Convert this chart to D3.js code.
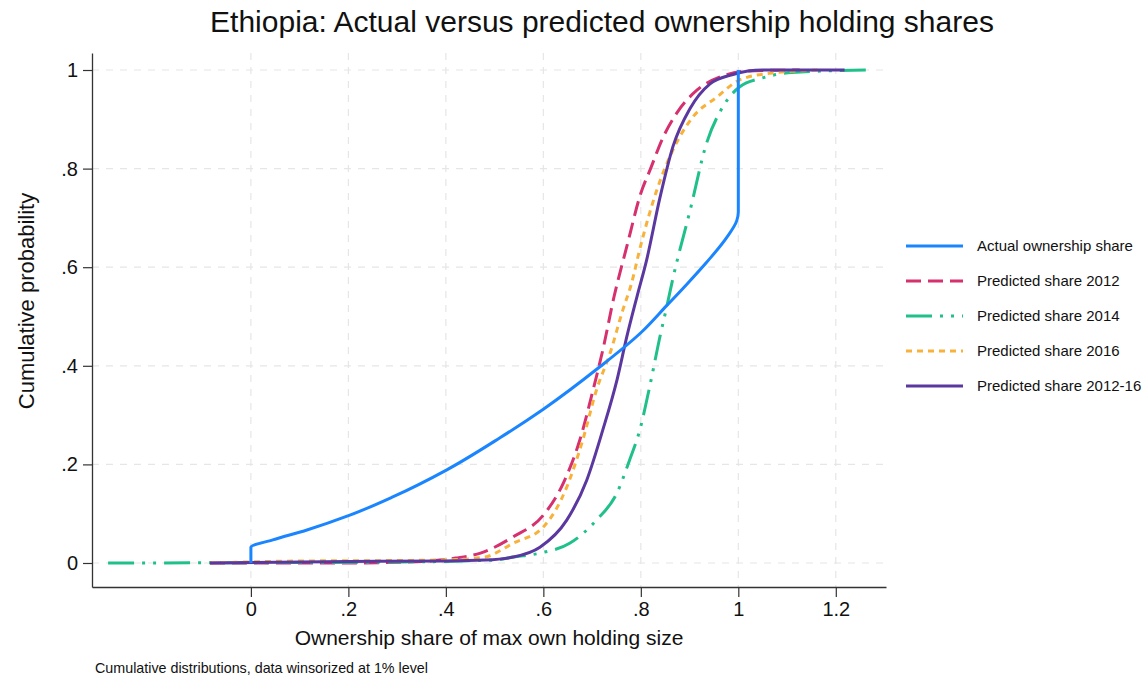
<!DOCTYPE html>
<html>
<head>
<meta charset="utf-8">
<script src="https://cdn.jsdelivr.net/npm/d3@7"></script>
<style>
  body { margin: 0; background: #fff; }
  text { font-family: "Liberation Sans", Arial, Helvetica, sans-serif; fill: #111; }
</style>
</head>
<body>
<svg id="chart" width="1145" height="680"></svg>
<script>
// ---------- data ----------
const title = "Ethiopia: Actual versus predicted ownership holding shares";
const xTitle = "Ownership share of max own holding size";
const yTitle = "Cumulative probability";
const note = "Cumulative distributions, data winsorized at 1% level";

const xTicks = [0, 0.2, 0.4, 0.6, 0.8, 1, 1.2];
const xTickLabels = ["0", ".2", ".4", ".6", ".8", "1", "1.2"];
const yTicks = [0, 0.2, 0.4, 0.6, 0.8, 1];
const yTickLabels = ["0", ".2", ".4", ".6", ".8", "1"];

const seriesNames = ["Actual ownership share", "Predicted share 2012", "Predicted share 2014", "Predicted share 2016", "Predicted share 2012-16"];

const actualX = [0, 0, 0.045, 0.115, 0.203, 0.291, 0.402, 0.511, 0.6, 0.716, 0.8, 0.853, 0.894, 0.935, 0.976, 0.997, 1, 1];
const actualP = [0, 0.032, 0.047, 0.067, 0.097, 0.134, 0.189, 0.254, 0.312, 0.398, 0.467, 0.522, 0.565, 0.61, 0.66, 0.695, 0.712, 1];

const p2012X = [-0.084, 0.2, 0.35, 0.42, 0.471, 0.538, 0.6, 0.641, 0.675, 0.702, 0.722, 0.745, 0.771, 0.8, 0.82, 0.845, 0.874, 0.915, 0.968, 1.017, 1.126];
const p2012P = [0, 0.0, 0.003, 0.01, 0.02, 0.053, 0.097, 0.162, 0.25, 0.351, 0.432, 0.54, 0.641, 0.75, 0.8, 0.862, 0.913, 0.959, 0.988, 0.998, 1];

const p2014X = [-0.293, 0.3, 0.5, 0.538, 0.593, 0.654, 0.709, 0.751, 0.777, 0.798, 0.818, 0.839, 0.853, 0.866, 0.901, 0.935, 0.968, 1.003, 1.05, 1.11, 1.27];
const p2014P = [0, 0.002, 0.006, 0.012, 0.02, 0.04, 0.087, 0.142, 0.209, 0.27, 0.357, 0.458, 0.519, 0.578, 0.715, 0.852, 0.925, 0.966, 0.984, 0.995, 1];

const p2016X = [-0.084, 0.1, 0.3, 0.42, 0.48, 0.538, 0.6, 0.648, 0.681, 0.709, 0.737, 0.763, 0.78, 0.8, 0.833, 0.866, 0.907, 0.956, 1.003, 1.07, 1.17];
const p2016P = [0, 0.004, 0.005, 0.007, 0.012, 0.04, 0.073, 0.154, 0.25, 0.351, 0.426, 0.513, 0.564, 0.645, 0.757, 0.838, 0.905, 0.945, 0.98, 0.994, 1];

const p1216X = [-0.084, 0.2, 0.4, 0.48, 0.538, 0.593, 0.648, 0.689, 0.722, 0.751, 0.771, 0.792, 0.812, 0.839, 0.866, 0.901, 0.942, 0.989, 1.05, 1.218];
const p1216P = [0, 0.003, 0.004, 0.006, 0.012, 0.032, 0.087, 0.168, 0.27, 0.371, 0.458, 0.54, 0.615, 0.74, 0.845, 0.922, 0.972, 0.991, 1, 1];

const colors = ["#1a85ff", "#d6306e", "#1fc08a", "#f8b23c", "#5a38a0"];
const dashes = [null, "15,7", "26,8,3,8,3,8", "6,5", null];

// ---------- layout ----------
const svg = d3.select("#chart");
const mLeft = 92, mRight = 886, mTop = 53, mBottom = 587;
const x = d3.scaleLinear().domain([-0.326, 1.303]).range([mLeft, mRight]);
const y = d3.scaleLinear().domain([-0.0487, 1.0345]).range([mBottom, mTop]);

// grid
const grid = svg.append("g");
grid.selectAll(".gx").data(xTicks).enter().append("line")
  .attr("x1", d => x(d)).attr("x2", d => x(d)).attr("y1", mTop).attr("y2", mBottom)
  .attr("stroke", "#e6e6e6").attr("stroke-width", 1.2).attr("stroke-dasharray", "7,7");
grid.selectAll(".gy").data(yTicks).enter().append("line")
  .attr("y1", d => y(d)).attr("y2", d => y(d)).attr("x1", mLeft).attr("x2", mRight)
  .attr("stroke", "#e6e6e6").attr("stroke-width", 1.2).attr("stroke-dasharray", "7,7");

// axes
const xAxis = d3.axisBottom(x).tickValues(xTicks).tickFormat((d, i) => xTickLabels[i]).tickSize(10).tickPadding(5).tickSizeOuter(0);
const yAxis = d3.axisLeft(y).tickValues(yTicks).tickFormat((d, i) => yTickLabels[i]).tickSize(9).tickPadding(5).tickSizeOuter(0);
const gx = svg.append("g").attr("transform", `translate(0,${mBottom})`).call(xAxis);
const gy = svg.append("g").attr("transform", `translate(${mLeft},0)`).call(yAxis);
[gx, gy].forEach(g => {
  g.select(".domain").attr("stroke", "#333").attr("stroke-width", 1.3);
  g.selectAll(".tick line").attr("stroke", "#333").attr("stroke-width", 1.2);
  g.selectAll(".tick text").attr("font-size", 20).attr("fill", "#111")
    .attr("font-family", '"Liberation Sans", Arial, sans-serif');
});

// series
const series = [
  {x: actualX, p: actualP, curve: d3.curveMonotoneY},
  {x: p2012X, p: p2012P, curve: d3.curveMonotoneX},
  {x: p2014X, p: p2014P, curve: d3.curveMonotoneX},
  {x: p2016X, p: p2016P, curve: d3.curveMonotoneX},
  {x: p1216X, p: p1216P, curve: d3.curveMonotoneX}
];
const drawOrder = [1, 2, 3, 4, 0];
drawOrder.forEach(i => {
  const s = series[i];
  const pts = s.x.map((v, k) => [v, s.p[k]]);
  const line = d3.line().x(d => x(d[0])).y(d => y(d[1])).curve(s.curve);
  svg.append("path").attr("d", line(pts)).attr("fill", "none")
    .attr("stroke", colors[i]).attr("stroke-width", 3)
    .attr("stroke-dasharray", dashes[i]);
});

// legend
const lg = svg.append("g");
seriesNames.forEach((name, i) => {
  const yy = 246 + i * 35;
  lg.append("line").attr("x1", 906).attr("x2", 963).attr("y1", yy).attr("y2", yy)
    .attr("stroke", colors[i]).attr("stroke-width", 3).attr("stroke-dasharray", dashes[i]);
  lg.append("text").attr("x", 977).attr("y", yy).attr("dy", "0.35em")
    .attr("font-size", 15).text(name);
});

// titles
svg.append("text").attr("x", 602).attr("y", 32).attr("text-anchor", "middle")
  .attr("font-size", 30).text(title);
svg.append("text").attr("x", 489).attr("y", 645).attr("text-anchor", "middle")
  .attr("font-size", 21).text(xTitle);
svg.append("text").attr("transform", "translate(34,301) rotate(-90)").attr("text-anchor", "middle")
  .attr("font-size", 22).text(yTitle);
svg.append("text").attr("x", 95).attr("y", 673).attr("font-size", 14.3).text(note);
</script>
</body>
</html>
